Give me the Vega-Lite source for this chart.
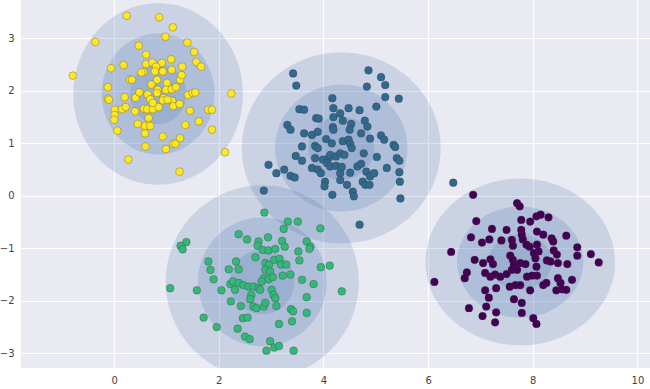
{
  "$schema": "https://vega.github.io/schema/vega-lite/v6.json",
  "width": 629,
  "height": 368,
  "autosize": {"type": "none"},
  "padding": {"left": 21, "top": 0, "right": 0, "bottom": 21},
  "background": "#ffffff",
  "datasets": {
    "ell": [
      {"label": 3, "cx": 0.84, "cy": 1.94, "nsig": 1, "r": 0.54},
      {"label": 3, "cx": 0.84, "cy": 1.94, "nsig": 2, "r": 1.08},
      {"label": 3, "cx": 0.84, "cy": 1.94, "nsig": 3, "r": 1.62},
      {"label": 1, "cx": 4.34, "cy": 0.91, "nsig": 1, "r": 0.633},
      {"label": 1, "cx": 4.34, "cy": 0.91, "nsig": 2, "r": 1.266},
      {"label": 1, "cx": 4.34, "cy": 0.91, "nsig": 3, "r": 1.9},
      {"label": 2, "cx": 2.83, "cy": -1.64, "nsig": 1, "r": 0.615},
      {"label": 2, "cx": 2.83, "cy": -1.64, "nsig": 2, "r": 1.23},
      {"label": 2, "cx": 2.83, "cy": -1.64, "nsig": 3, "r": 1.845},
      {"label": 0, "cx": 7.76, "cy": -1.26, "nsig": 1, "r": 0.603},
      {"label": 0, "cx": 7.76, "cy": -1.26, "nsig": 2, "r": 1.206},
      {"label": 0, "cx": 7.76, "cy": -1.26, "nsig": 3, "r": 1.81}
    ],
    "pts": [
      {"label":3,"x":-0.79,"y":2.29},{"label":3,"x":-0.36,"y":2.93},{"label":3,"x":0.24,"y":3.43},{"label":3,"x":0.86,"y":3.40},
      {"label":3,"x":1.12,"y":3.21},{"label":3,"x":0.98,"y":3.03},{"label":3,"x":0.47,"y":2.86},{"label":3,"x":1.40,"y":2.92},
      {"label":3,"x":1.53,"y":2.74},{"label":3,"x":1.57,"y":2.55},{"label":3,"x":1.66,"y":2.46},{"label":3,"x":0.61,"y":2.69},
      {"label":3,"x":0.61,"y":2.51},{"label":3,"x":0.73,"y":2.54},{"label":3,"x":0.91,"y":2.53},{"label":3,"x":1.09,"y":2.60},
      {"label":3,"x":1.10,"y":2.40},{"label":3,"x":1.30,"y":2.46},{"label":3,"x":0.80,"y":2.46},{"label":3,"x":0.78,"y":2.37},
      {"label":3,"x":0.93,"y":2.37},{"label":3,"x":0.56,"y":2.36},{"label":3,"x":0.52,"y":2.35},{"label":3,"x":0.18,"y":2.49},
      {"label":3,"x":-0.06,"y":2.43},{"label":3,"x":0.30,"y":2.21},{"label":3,"x":0.34,"y":2.21},{"label":3,"x":-0.12,"y":2.07},
      {"label":3,"x":-0.12,"y":1.85},{"label":3,"x":-0.10,"y":1.83},{"label":3,"x":0.20,"y":1.88},{"label":3,"x":0.41,"y":1.87},
      {"label":3,"x":0.48,"y":1.97},{"label":3,"x":0.64,"y":1.93},{"label":3,"x":0.71,"y":2.12},{"label":3,"x":0.82,"y":2.21},
      {"label":3,"x":0.83,"y":2.02},{"label":3,"x":1.01,"y":2.15},{"label":3,"x":0.99,"y":2.02},{"label":3,"x":1.10,"y":2.03},
      {"label":3,"x":1.18,"y":2.07},{"label":3,"x":1.26,"y":2.21},{"label":3,"x":1.29,"y":2.30},{"label":3,"x":1.41,"y":1.92},
      {"label":3,"x":1.50,"y":1.96},{"label":3,"x":1.55,"y":1.97},{"label":3,"x":0.01,"y":1.64},{"label":3,"x":0.01,"y":1.54},
      {"label":3,"x":0.00,"y":1.45},{"label":3,"x":0.06,"y":1.24},{"label":3,"x":0.15,"y":1.65},{"label":3,"x":0.22,"y":1.69},
      {"label":3,"x":0.40,"y":1.61},{"label":3,"x":0.57,"y":1.66},{"label":3,"x":0.63,"y":1.65},{"label":3,"x":0.66,"y":1.48},
      {"label":3,"x":0.65,"y":1.35},{"label":3,"x":0.74,"y":1.65},{"label":3,"x":0.85,"y":1.69},{"label":3,"x":0.94,"y":1.86},
      {"label":3,"x":0.93,"y":1.82},{"label":3,"x":1.11,"y":1.81},{"label":3,"x":1.13,"y":1.71},{"label":3,"x":1.25,"y":1.75},
      {"label":3,"x":1.45,"y":1.62},{"label":3,"x":1.62,"y":1.42},{"label":3,"x":1.80,"y":1.64},{"label":3,"x":1.87,"y":1.64},
      {"label":3,"x":1.87,"y":1.26},{"label":3,"x":1.36,"y":1.35},{"label":3,"x":0.45,"y":1.37},{"label":3,"x":0.59,"y":1.33},
      {"label":3,"x":0.69,"y":1.33},{"label":3,"x":0.59,"y":1.19},{"label":3,"x":0.93,"y":1.13},{"label":3,"x":1.13,"y":0.99},
      {"label":3,"x":1.17,"y":0.99},{"label":3,"x":1.26,"y":1.10},{"label":3,"x":0.99,"y":0.89},{"label":3,"x":0.60,"y":0.94},
      {"label":3,"x":0.27,"y":0.69},{"label":3,"x":1.25,"y":0.46},{"label":3,"x":2.12,"y":0.83},{"label":3,"x":2.24,"y":1.95},
      {"label":3,"x":0.69,"y":1.84},{"label":3,"x":0.74,"y":1.77},{"label":3,"x":0.82,"y":1.96},{"label":3,"x":1.02,"y":1.83},

      {"label":1,"x":3.42,"y":2.33},{"label":1,"x":3.48,"y":2.10},{"label":1,"x":4.86,"y":2.39},{"label":1,"x":5.10,"y":2.26},
      {"label":1,"x":5.18,"y":2.11},{"label":1,"x":4.83,"y":2.08},{"label":1,"x":5.18,"y":1.88},{"label":1,"x":5.44,"y":1.85},
      {"label":1,"x":5.01,"y":1.70},{"label":1,"x":4.17,"y":1.86},{"label":1,"x":4.19,"y":1.67},{"label":1,"x":4.32,"y":1.57},
      {"label":1,"x":4.48,"y":1.67},{"label":1,"x":4.69,"y":1.63},{"label":1,"x":3.54,"y":1.65},{"label":1,"x":3.63,"y":1.64},
      {"label":1,"x":3.86,"y":1.48},{"label":1,"x":3.91,"y":1.47},{"label":1,"x":4.19,"y":1.50},{"label":1,"x":4.37,"y":1.43},
      {"label":1,"x":4.53,"y":1.37},{"label":1,"x":4.79,"y":1.43},{"label":1,"x":4.84,"y":1.32},{"label":1,"x":3.31,"y":1.35},
      {"label":1,"x":3.37,"y":1.26},{"label":1,"x":3.63,"y":1.19},{"label":1,"x":3.78,"y":1.16},{"label":1,"x":3.89,"y":1.22},
      {"label":1,"x":4.18,"y":1.31},{"label":1,"x":4.19,"y":1.26},{"label":1,"x":4.50,"y":1.26},{"label":1,"x":4.72,"y":1.19},
      {"label":1,"x":4.89,"y":1.09},{"label":1,"x":5.10,"y":1.15},{"label":1,"x":5.16,"y":1.07},{"label":1,"x":5.34,"y":0.97},
      {"label":1,"x":5.37,"y":0.93},{"label":1,"x":3.59,"y":0.94},{"label":1,"x":3.84,"y":0.95},{"label":1,"x":3.89,"y":0.91},
      {"label":1,"x":4.05,"y":1.08},{"label":1,"x":4.16,"y":1.00},{"label":1,"x":4.37,"y":1.04},{"label":1,"x":4.48,"y":1.07},
      {"label":1,"x":4.51,"y":0.99},{"label":1,"x":4.54,"y":0.91},{"label":1,"x":4.77,"y":0.81},{"label":1,"x":5.02,"y":0.74},
      {"label":1,"x":5.40,"y":0.72},{"label":1,"x":5.45,"y":0.67},{"label":1,"x":3.47,"y":0.76},{"label":1,"x":3.59,"y":0.67},
      {"label":1,"x":3.84,"y":0.72},{"label":1,"x":3.99,"y":0.69},{"label":1,"x":4.10,"y":0.72},{"label":1,"x":4.13,"y":0.78},
      {"label":1,"x":4.24,"y":0.75},{"label":1,"x":4.32,"y":0.81},{"label":1,"x":4.40,"y":0.78},{"label":1,"x":4.07,"y":0.62},
      {"label":1,"x":4.13,"y":0.56},{"label":1,"x":4.24,"y":0.57},{"label":1,"x":4.35,"y":0.55},{"label":1,"x":4.32,"y":0.43},
      {"label":1,"x":4.51,"y":0.44},{"label":1,"x":4.65,"y":0.56},{"label":1,"x":4.72,"y":0.61},{"label":1,"x":4.82,"y":0.46},
      {"label":1,"x":4.89,"y":0.37},{"label":1,"x":4.97,"y":0.43},{"label":1,"x":5.21,"y":0.53},{"label":1,"x":5.45,"y":0.45},
      {"label":1,"x":2.95,"y":0.59},{"label":1,"x":3.10,"y":0.43},{"label":1,"x":3.25,"y":0.50},{"label":1,"x":3.37,"y":0.38},
      {"label":1,"x":3.45,"y":0.35},{"label":1,"x":3.78,"y":0.53},{"label":1,"x":3.89,"y":0.50},{"label":1,"x":3.95,"y":0.43},
      {"label":1,"x":4.03,"y":0.27},{"label":1,"x":4.02,"y":0.18},{"label":1,"x":4.32,"y":0.30},{"label":1,"x":4.45,"y":0.21},
      {"label":1,"x":4.56,"y":0.08},{"label":1,"x":4.58,"y":-0.01},{"label":1,"x":4.75,"y":0.27},{"label":1,"x":4.80,"y":0.21},
      {"label":1,"x":4.88,"y":0.21},{"label":1,"x":5.46,"y":0.27},{"label":1,"x":5.47,"y":-0.05},{"label":1,"x":4.17,"y":0.02},
      {"label":1,"x":2.86,"y":0.10},{"label":1,"x":4.69,"y":-0.55},{"label":1,"x":6.48,"y":0.25},

      {"label":2,"x":2.87,"y":-0.32},{"label":2,"x":3.32,"y":-0.49},{"label":2,"x":3.51,"y":-0.49},{"label":2,"x":3.24,"y":-0.63},
      {"label":2,"x":3.94,"y":-0.62},{"label":2,"x":2.38,"y":-0.73},{"label":2,"x":2.54,"y":-0.83},{"label":2,"x":2.94,"y":-0.79},
      {"label":2,"x":2.76,"y":-0.87},{"label":2,"x":2.74,"y":-0.95},{"label":2,"x":2.84,"y":-1.03},{"label":2,"x":2.95,"y":-1.04},
      {"label":2,"x":3.08,"y":-1.01},{"label":2,"x":3.21,"y":-0.86},{"label":2,"x":3.26,"y":-0.97},{"label":2,"x":3.68,"y":-0.87},
      {"label":2,"x":3.75,"y":-0.97},{"label":2,"x":3.73,"y":-1.01},{"label":2,"x":1.38,"y":-0.88},{"label":2,"x":1.27,"y":-0.95},
      {"label":2,"x":1.31,"y":-1.02},{"label":2,"x":3.52,"y":-1.06},{"label":2,"x":3.54,"y":-1.23},{"label":2,"x":2.70,"y":-1.17},
      {"label":2,"x":2.89,"y":-1.28},{"label":2,"x":2.96,"y":-1.31},{"label":2,"x":3.06,"y":-1.22},{"label":2,"x":3.16,"y":-1.20},
      {"label":2,"x":3.19,"y":-1.31},{"label":2,"x":3.29,"y":-1.31},{"label":2,"x":1.80,"y":-1.25},{"label":2,"x":1.84,"y":-1.41},
      {"label":2,"x":2.19,"y":-1.40},{"label":2,"x":2.33,"y":-1.25},{"label":2,"x":2.38,"y":-1.40},{"label":2,"x":2.89,"y":-1.41},
      {"label":2,"x":2.98,"y":-1.44},{"label":2,"x":2.86,"y":-1.57},{"label":2,"x":2.95,"y":-1.59},{"label":2,"x":3.03,"y":-1.55},
      {"label":2,"x":3.22,"y":-1.52},{"label":2,"x":3.37,"y":-1.50},{"label":2,"x":3.95,"y":-1.36},{"label":2,"x":4.12,"y":-1.33},
      {"label":2,"x":3.59,"y":-1.60},{"label":2,"x":3.81,"y":-1.68},{"label":2,"x":4.35,"y":-1.82},{"label":2,"x":1.07,"y":-1.76},
      {"label":2,"x":1.58,"y":-1.80},{"label":2,"x":2.05,"y":-1.80},{"label":2,"x":1.90,"y":-1.59},{"label":2,"x":2.22,"y":-1.68},
      {"label":2,"x":2.27,"y":-1.63},{"label":2,"x":2.38,"y":-1.66},{"label":2,"x":2.47,"y":-1.70},{"label":2,"x":2.57,"y":-1.73},
      {"label":2,"x":2.66,"y":-1.73},{"label":2,"x":2.76,"y":-1.76},{"label":2,"x":2.82,"y":-1.63},{"label":2,"x":2.62,"y":-1.89},
      {"label":2,"x":2.79,"y":-1.79},{"label":2,"x":3.01,"y":-1.79},{"label":2,"x":3.05,"y":-1.89},{"label":2,"x":3.08,"y":-1.95},
      {"label":2,"x":2.23,"y":-2.01},{"label":2,"x":2.42,"y":-2.10},{"label":2,"x":2.60,"y":-1.97},{"label":2,"x":2.66,"y":-2.11},
      {"label":2,"x":2.72,"y":-2.14},{"label":2,"x":2.86,"y":-2.11},{"label":2,"x":2.89,"y":-2.04},{"label":2,"x":3.10,"y":-2.10},
      {"label":2,"x":3.68,"y":-1.93},{"label":2,"x":3.38,"y":-2.16},{"label":2,"x":3.42,"y":-2.20},{"label":2,"x":3.68,"y":-2.23},
      {"label":2,"x":3.40,"y":-2.39},{"label":2,"x":3.15,"y":-2.44},{"label":2,"x":1.71,"y":-2.32},{"label":2,"x":1.96,"y":-2.50},
      {"label":2,"x":2.36,"y":-2.53},{"label":2,"x":2.46,"y":-2.33},{"label":2,"x":2.55,"y":-2.32},{"label":2,"x":2.50,"y":-2.68},
      {"label":2,"x":2.59,"y":-2.73},{"label":2,"x":2.98,"y":-2.77},{"label":2,"x":2.91,"y":-2.95},{"label":2,"x":3.06,"y":-2.89},
      {"label":2,"x":3.15,"y":-2.86},{"label":2,"x":3.43,"y":-2.95},{"label":2,"x":2.31,"y":-1.79},

      {"label":0,"x":6.86,"y":0.02},{"label":0,"x":7.70,"y":-0.14},{"label":0,"x":7.75,"y":-0.20},{"label":0,"x":8.07,"y":-0.39},
      {"label":0,"x":8.15,"y":-0.36},{"label":0,"x":8.30,"y":-0.41},{"label":0,"x":7.78,"y":-0.46},{"label":0,"x":7.95,"y":-0.49},
      {"label":0,"x":6.92,"y":-0.48},{"label":0,"x":7.22,"y":-0.63},{"label":0,"x":7.50,"y":-0.65},{"label":0,"x":7.78,"y":-0.65},
      {"label":0,"x":7.79,"y":-0.74},{"label":0,"x":8.08,"y":-0.68},{"label":0,"x":8.20,"y":-0.74},{"label":0,"x":8.36,"y":-0.81},
      {"label":0,"x":8.39,"y":-0.87},{"label":0,"x":8.64,"y":-0.76},{"label":0,"x":6.82,"y":-0.79},{"label":0,"x":7.03,"y":-0.89},
      {"label":0,"x":7.17,"y":-0.83},{"label":0,"x":7.40,"y":-0.85},{"label":0,"x":7.60,"y":-0.84},{"label":0,"x":7.62,"y":-0.95},
      {"label":0,"x":7.81,"y":-0.83},{"label":0,"x":7.88,"y":-0.93},{"label":0,"x":7.94,"y":-0.97},{"label":0,"x":8.08,"y":-0.93},
      {"label":0,"x":8.11,"y":-1.06},{"label":0,"x":8.40,"y":-1.04},{"label":0,"x":8.46,"y":-1.12},{"label":0,"x":8.85,"y":-0.98},
      {"label":0,"x":8.85,"y":-1.14},{"label":0,"x":9.11,"y":-1.11},{"label":0,"x":9.26,"y":-1.27},{"label":0,"x":6.44,"y":-1.07},
      {"label":0,"x":6.89,"y":-1.22},{"label":0,"x":7.05,"y":-1.28},{"label":0,"x":7.19,"y":-1.21},{"label":0,"x":7.24,"y":-1.30},
      {"label":0,"x":7.57,"y":-1.14},{"label":0,"x":7.62,"y":-1.22},{"label":0,"x":7.64,"y":-1.31},{"label":0,"x":7.76,"y":-1.28},
      {"label":0,"x":7.86,"y":-1.30},{"label":0,"x":8.02,"y":-1.09},{"label":0,"x":8.05,"y":-1.19},{"label":0,"x":8.27,"y":-1.23},
      {"label":0,"x":8.34,"y":-1.25},{"label":0,"x":8.48,"y":-1.28},{"label":0,"x":8.66,"y":-1.30},{"label":0,"x":6.74,"y":-1.46},
      {"label":0,"x":6.70,"y":-1.57},{"label":0,"x":7.09,"y":-1.47},{"label":0,"x":7.19,"y":-1.54},{"label":0,"x":7.28,"y":-1.50},
      {"label":0,"x":7.38,"y":-1.54},{"label":0,"x":7.50,"y":-1.49},{"label":0,"x":7.60,"y":-1.41},{"label":0,"x":7.70,"y":-1.41},
      {"label":0,"x":7.89,"y":-1.54},{"label":0,"x":7.99,"y":-1.52},{"label":0,"x":8.08,"y":-1.52},{"label":0,"x":8.07,"y":-1.35},
      {"label":0,"x":8.20,"y":-1.70},{"label":0,"x":8.26,"y":-1.66},{"label":0,"x":8.48,"y":-1.57},{"label":0,"x":8.53,"y":-1.66},
      {"label":0,"x":8.75,"y":-1.60},{"label":0,"x":8.45,"y":-1.80},{"label":0,"x":8.56,"y":-1.78},{"label":0,"x":8.64,"y":-1.79},
      {"label":0,"x":6.12,"y":-1.64},{"label":0,"x":7.09,"y":-1.80},{"label":0,"x":7.16,"y":-1.94},{"label":0,"x":7.30,"y":-1.76},
      {"label":0,"x":7.56,"y":-1.73},{"label":0,"x":7.67,"y":-1.70},{"label":0,"x":7.76,"y":-1.70},{"label":0,"x":7.95,"y":-1.80},
      {"label":0,"x":7.64,"y":-1.97},{"label":0,"x":7.79,"y":-2.04},{"label":0,"x":7.11,"y":-2.11},{"label":0,"x":6.78,"y":-2.14},
      {"label":0,"x":7.04,"y":-2.29},{"label":0,"x":7.30,"y":-2.22},{"label":0,"x":7.28,"y":-2.41},{"label":0,"x":7.79,"y":-2.23},
      {"label":0,"x":8.01,"y":-2.33},{"label":0,"x":8.07,"y":-2.44}
    ]
  },
  "layer": [
    {
      "data": {"name": "ell"},
      "mark": {"type": "point", "filled": true, "color": "#4C72B0", "opacity": 0.2, "strokeWidth": 0, "clip": true},
      "encoding": {
        "x": {"field": "cx", "type": "quantitative", "scale": {"domain": [-1.78, 10.24], "nice": false, "zero": false},
              "axis": {"values": [0, 2, 4, 6, 8, 10], "title": null}},
        "y": {"field": "cy", "type": "quantitative", "scale": {"domain": [-3.28, 3.73], "nice": false, "zero": false},
              "axis": {"values": [-3, -2, -1, 0, 1, 2, 3], "title": null}},
        "size": {"field": "r", "type": "quantitative", "scale": {"type": "pow", "exponent": 2, "domain": [0, 3], "range": [0, 98586]}, "legend": null},
        "shape": {"field": "label", "type": "nominal", "legend": null,
                  "scale": {"domain": [0, 1, 2, 3], "range": [
                    "M-1,0A1,0.88,0,1,1,1,0A1,0.88,0,1,1,-1,0Z",
                    "M-1,0A1,0.96,0,1,1,1,0A1,0.96,0,1,1,-1,0Z",
                    "M-1,0A1,1,0,1,1,1,0A1,1,0,1,1,-1,0Z",
                    "M-1,0A1,1.07,0,1,1,1,0A1,1.07,0,1,1,-1,0Z"]}}
      }
    },
    {
      "data": {"name": "pts"},
      "mark": {"type": "point", "filled": true, "size": 60, "opacity": 1, "stroke": "#333333", "strokeWidth": 0.6, "strokeOpacity": 0.5},
      "encoding": {
        "x": {"field": "x", "type": "quantitative", "axis": {"values": [0, 2, 4, 6, 8, 10], "title": null}},
        "y": {"field": "y", "type": "quantitative", "axis": {"values": [-3, -2, -1, 0, 1, 2, 3], "title": null}},
        "fill": {"field": "label", "type": "nominal", "legend": null,
                 "scale": {"domain": [0, 1, 2, 3], "range": ["#440154", "#31688e", "#35b779", "#fde725"]}}
      }
    }
  ],
  "config": {
    "view": {"fill": "#EAEAF2", "stroke": null},
    "axis": {"grid": true, "gridColor": "#ffffff", "gridWidth": 1.2, "domain": false, "ticks": false,
             "labelFont": "DejaVu Sans", "labelFontSize": 10, "labelColor": "#444444", "labelPadding": 7}
  }
}
